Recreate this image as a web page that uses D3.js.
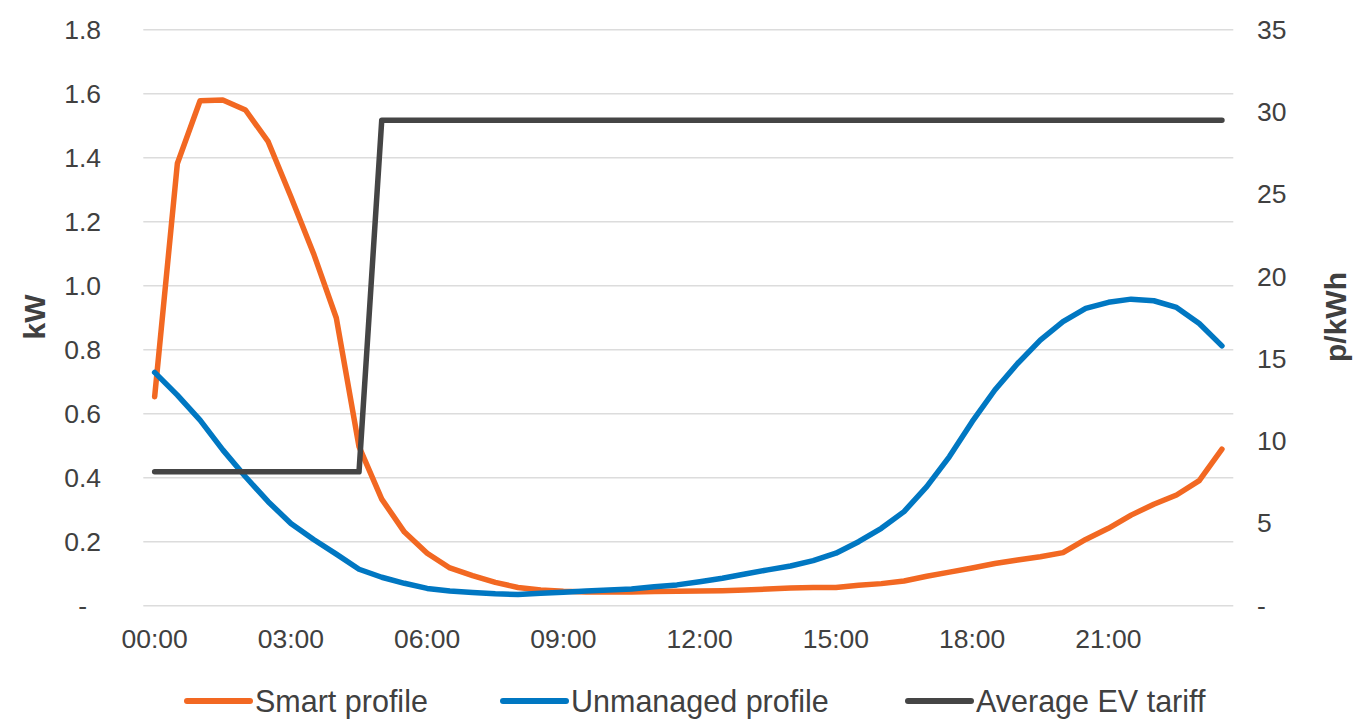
<!DOCTYPE html>
<html>
<head>
<meta charset="utf-8">
<script src="https://cdn.jsdelivr.net/npm/d3@7"></script>
<style>
  html, body { margin: 0; padding: 0; background: #fff; }
  svg { display: block; font-family: "Liberation Sans", Arial, sans-serif; }
</style>
</head>
<body>
<svg id="chart" width="1354" height="720"></svg>
<script>
const times = ["00:00","00:30","01:00","01:30","02:00","02:30","03:00","03:30","04:00","04:30",
  "05:00","05:30","06:00","06:30","07:00","07:30","08:00","08:30","09:00","09:30",
  "10:00","10:30","11:00","11:30","12:00","12:30","13:00","13:30","14:00","14:30",
  "15:00","15:30","16:00","16:30","17:00","17:30","18:00","18:30","19:00","19:30",
  "20:00","20:30","21:00","21:30","22:00","22:30","23:00","23:30"];

const smartProfile = [0.653,1.382,1.578,1.580,1.549,1.450,1.278,1.100,0.899,0.497,
  0.333,0.230,0.164,0.118,0.094,0.073,0.057,0.049,0.045,0.043,
  0.043,0.043,0.044,0.045,0.046,0.047,0.049,0.052,0.055,0.057,
  0.057,0.064,0.069,0.077,0.092,0.105,0.118,0.132,0.143,0.153,
  0.166,0.207,0.242,0.283,0.317,0.346,0.391,0.489];

const unmanagedProfile = [0.729,0.658,0.580,0.487,0.403,0.325,0.257,0.207,0.161,0.114,
  0.089,0.070,0.054,0.046,0.041,0.037,0.035,0.039,0.042,0.046,
  0.049,0.052,0.059,0.065,0.075,0.086,0.099,0.112,0.124,0.141,
  0.164,0.200,0.242,0.294,0.372,0.466,0.575,0.674,0.757,0.830,
  0.888,0.929,0.948,0.958,0.953,0.932,0.882,0.812];

const evTariff = [8.14,8.14,8.14,8.14,8.14,8.14,8.14,8.14,8.14,8.14,
  29.5,29.5,29.5,29.5,29.5,29.5,29.5,29.5,29.5,29.5,
  29.5,29.5,29.5,29.5,29.5,29.5,29.5,29.5,29.5,29.5,
  29.5,29.5,29.5,29.5,29.5,29.5,29.5,29.5,29.5,29.5,
  29.5,29.5,29.5,29.5,29.5,29.5,29.5,29.5];

const xTickLabels = ["00:00","03:00","06:00","09:00","12:00","15:00","18:00","21:00"];
const leftTicks = [0,0.2,0.4,0.6,0.8,1.0,1.2,1.4,1.6,1.8];
const rightTicks = [0,5,10,15,20,25,30,35];
const seriesNames = ["Smart profile","Unmanaged profile","Average EV tariff"];
const seriesColors = ["#F26822","#0077C2","#454545"];

const svg = d3.select("#chart");
const L = 143.3, R = 1233.3, T = 29.7, B = 605.7;
const textColor = "#404040";

const x = d3.scaleBand().domain(times).range([L, R]).padding(0);
const xc = t => x(t) + x.bandwidth() / 2;
const yL = d3.scaleLinear().domain([0, 1.8]).range([B, T]);
const yR = d3.scaleLinear().domain([0, 35]).range([B, T]);

// gridlines
svg.append("g").selectAll("line").data(leftTicks).join("line")
  .attr("x1", L).attr("x2", R)
  .attr("y1", d => yL(d)).attr("y2", d => yL(d))
  .attr("stroke", "#dcdcdc").attr("stroke-width", 1.6);

// left axis
const leftAxis = d3.axisLeft(yL).tickValues(leftTicks).tickSize(0).tickPadding(0)
  .tickFormat(d => d === 0 ? "-" : d3.format(".1f")(d));
const gl = svg.append("g").attr("transform", `translate(101,0)`).call(leftAxis);
gl.select(".domain").remove();
gl.selectAll("text").attr("fill", textColor).attr("font-size", 26.5)
  .attr("font-family", '"Liberation Sans", Arial, sans-serif')
  .attr("dx", d => d === 0 ? -14 : 0);

// right axis
const rightAxis = d3.axisRight(yR).tickValues(rightTicks).tickSize(0).tickPadding(0)
  .tickFormat(d => d === 0 ? "-" : d3.format("d")(d));
const gr = svg.append("g").attr("transform", `translate(1257,0)`).call(rightAxis);
gr.select(".domain").remove();
gr.selectAll("text").attr("fill", textColor).attr("font-size", 26.5)
  .attr("font-family", '"Liberation Sans", Arial, sans-serif');

// x axis
const xAxis = d3.axisBottom(x).tickValues(xTickLabels).tickSize(0).tickPadding(0);
const gx = svg.append("g").attr("transform", `translate(0,${B})`).call(xAxis);
gx.select(".domain").remove();
gx.selectAll("text").attr("fill", textColor).attr("font-size", 26.5)
  .attr("font-family", '"Liberation Sans", Arial, sans-serif')
  .attr("y", 0).attr("dy", "1.61em");

// axis titles
svg.append("text").attr("transform", "translate(45,317) rotate(-90)")
  .attr("text-anchor", "middle").attr("font-size", 30).attr("font-weight", "bold")
  .attr("fill", textColor).text("kW");
svg.append("text").attr("transform", "translate(1346,317) rotate(-90)")
  .attr("text-anchor", "middle").attr("font-size", 30).attr("font-weight", "bold")
  .attr("fill", textColor).text("p/kWh");

// lines
const lineL = d3.line().x((d, i) => xc(times[i])).y(d => yL(d));
const lineR = d3.line().x((d, i) => xc(times[i])).y(d => yR(d));

const series = [
  {data: smartProfile, gen: lineL, color: seriesColors[0]},
  {data: unmanagedProfile, gen: lineL, color: seriesColors[1]},
  {data: evTariff, gen: lineR, color: seriesColors[2]}
];
series.forEach(s => {
  svg.append("path").datum(s.data).attr("d", s.gen)
    .attr("fill", "none").attr("stroke", s.color).attr("stroke-width", 5.5)
    .attr("stroke-linecap", "round").attr("stroke-linejoin", "round");
});

// legend
const legendY = 701;
const legendX = [187, 503, 908];
const lg = svg.append("g");
seriesNames.forEach((name, i) => {
  lg.append("line").attr("x1", legendX[i]).attr("x2", legendX[i] + 63)
    .attr("y1", legendY).attr("y2", legendY)
    .attr("stroke", seriesColors[i]).attr("stroke-width", 6).attr("stroke-linecap", "round");
  lg.append("text").attr("x", legendX[i] + 68).attr("y", legendY).attr("dy", "0.36em")
    .attr("font-size", 30.5).attr("fill", textColor).text(name);
});
</script>
</body>
</html>
